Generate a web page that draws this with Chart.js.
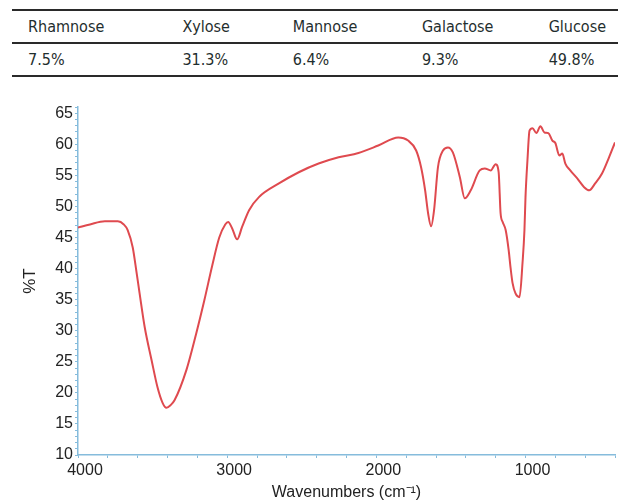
<!DOCTYPE html>
<html>
<head>
<meta charset="utf-8">
<script src="https://cdn.jsdelivr.net/npm/chart.js@4.4.0/dist/chart.umd.min.js"></script>
<style>
  body { margin: 0; background: #fff; width: 618px; height: 504px; overflow: hidden; position: relative; }
  #sugarTable {
    position: absolute; left: 12px; top: 9px; width: 606px;
    border-collapse: collapse;
    font-family: "DejaVu Sans", "Liberation Sans", sans-serif;
    font-stretch: condensed;
    font-size: 16px; color: #1f2e2e;
  }
  #sugarTable td { padding: 0; height: 31px; vertical-align: middle; white-space: nowrap; }
  #sugarTable tr { border-top: 2px solid #2a2a2a; }
  #sugarTable tr:last-child { border-bottom: 2px solid #2a2a2a; }
  #chartBox { position: absolute; left: 0; top: 85px; }
</style>
</head>
<body>
<table id="sugarTable"><tbody></tbody></table>
<div id="chartBox"><canvas id="irChart" width="618" height="419"></canvas></div>
<script>
// monosaccharide composition
var sugars = ['Rhamnose', 'Xylose', 'Mannose', 'Galactose', 'Glucose'];
var sugarPercent = ['7.5%', '31.3%', '6.4%', '9.3%', '49.8%'];

// FT-IR spectrum
var wavenumbers = [4000, 3920, 3820, 3733, 3693, 3667, 3633, 3607, 3587, 3553, 3507, 3467, 3433, 3407, 3380, 3353,
  3273, 3207, 3153, 3100, 3053, 3013, 2993, 2967, 2933, 2900, 2853, 2787, 2653, 2520, 2387, 2253, 2120, 1987,
  1853, 1787, 1733, 1700, 1673, 1653, 1633, 1613, 1587, 1553, 1520, 1487, 1440, 1407, 1367, 1307, 1273, 1233,
  1200, 1180, 1167, 1153, 1133, 1113, 1100, 1087, 1067, 1040, 1020, 1007, 1000, 987, 973, 953, 927, 900, 873,
  847, 820, 800, 773, 753, 733, 700, 653, 607, 573, 533, 487, 440, 400];
var transmittance = [46.6, 47.1, 47.6, 47.6, 47.1, 46.2, 43.4, 39.3, 36.0, 30.6, 25.3, 20.9, 18.4, 17.6, 18.0, 18.8,
  23.7, 29.6, 34.9, 40.5, 45.0, 47.1, 47.5, 46.5, 44.7, 46.7, 49.4, 51.5, 53.7, 55.5, 56.9, 57.9, 58.6, 59.8,
  61.1, 60.6, 59.0, 56.3, 52.6, 48.9, 46.8, 49.4, 56.3, 59.0, 59.5, 58.7, 54.7, 51.3, 52.6, 55.8, 56.1, 55.8,
  56.8, 55.5, 48.9, 47.5, 46.2, 43.0, 40.1, 37.7, 36.0, 35.4, 40.9, 46.2, 51.5, 57.4, 62.2, 62.6, 61.8, 62.9, 61.9,
  61.8, 60.6, 60.2, 58.2, 58.5, 56.9, 55.8, 54.5, 53.1, 52.6, 53.7, 55.3, 57.9, 60.3];

var xTickLabels = [4000, 3000, 2000, 1000];
var yTickLabels = [10, 15, 20, 25, 30, 35, 40, 45, 50, 55, 60, 65];

// table
var tbody = document.querySelector('#sugarTable tbody');
var colWidths = [159, 114, 133, 130, 70];
[sugars, sugarPercent].forEach(function (row) {
  var tr = document.createElement('tr');
  row.forEach(function (txt, i) {
    var td = document.createElement('td');
    td.textContent = txt;
    td.style.width = colWidths[i] + 'px';
    if (i === 0) td.style.paddingLeft = '16px';
    tr.appendChild(td);
  });
  tbody.appendChild(tr);
});

// minor tick marks: every 200 cm-1 and every 1 %T
var xMinor = [];
for (var w = 4000; w >= 400; w -= 200) xMinor.push(w);
var yMinor = [];
for (var t = 10; t <= 66; t++) yMinor.push(t);

var axisBlue = '#86bcdc';
var points = wavenumbers.map(function (w, i) { return { x: w, y: transmittance[i] }; });

new Chart(document.getElementById('irChart'), {
  type: 'scatter',
  data: {
    datasets: [{
      data: points,
      showLine: true,
      borderColor: '#df4a4f',
      borderWidth: 2,
      pointRadius: 0,
      cubicInterpolationMode: 'monotone'
    }]
  },
  options: {
    responsive: false,
    animation: false,
    devicePixelRatio: 1,
    layout: { padding: { top: 22, right: 0, left: 0, bottom: 0 } },
    plugins: { legend: { display: false }, tooltip: { enabled: false } },
    scales: {
      x: {
        type: 'linear',
        reverse: true,
        min: 400,
        max: 4000,
        afterBuildTicks: function (scale) {
          scale.ticks = xMinor.map(function (v) { return { value: v }; });
        },
        afterFit: function (scale) { scale.height = 49; },
        ticks: {
          autoSkip: false,
          maxRotation: 0,
          padding: 3,
          labelOffset: 7,
          color: '#222',
          font: { family: 'Liberation Sans, Arial, sans-serif', size: 16 },
          callback: function (v) { return xTickLabels.indexOf(v) >= 0 ? String(v) : ''; }
        },
        grid: { drawOnChartArea: false, drawTicks: true, tickLength: 3, color: axisBlue },
        border: { color: axisBlue, width: 1.5 },
        title: {
          display: true,
          text: 'Wavenumbers (cm\u207B\u00B9)',
          color: '#222',
          font: { family: 'Liberation Sans, Arial, sans-serif', size: 16 },
          padding: { top: 0, bottom: 2 }
        }
      },
      y: {
        type: 'linear',
        min: 10,
        max: 66,
        afterBuildTicks: function (scale) {
          scale.ticks = yMinor.map(function (v) { return { value: v }; });
        },
        afterFit: function (scale) { scale.width = 78; },
        ticks: {
          autoSkip: false,
          padding: 2,
          color: '#222',
          font: { family: 'Liberation Sans, Arial, sans-serif', size: 16 },
          callback: function (v) { return yTickLabels.indexOf(v) >= 0 ? String(v) : ''; }
        },
        grid: { drawOnChartArea: false, drawTicks: true, tickLength: 3, color: axisBlue },
        border: { color: axisBlue, width: 1.5 },
        title: {
          display: true,
          text: '%T',
          color: '#222',
          font: { family: 'Liberation Sans, Arial, sans-serif', size: 17 },
          padding: { top: 20, bottom: 0 }
        }
      }
    }
  }
});
</script>
</body>
</html>
